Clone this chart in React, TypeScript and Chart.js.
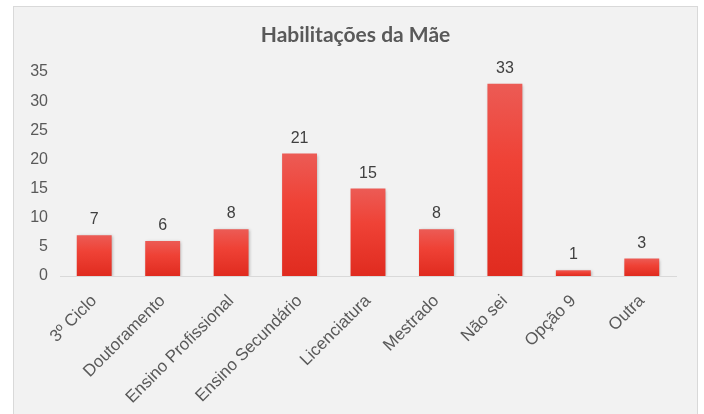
import React, { useEffect, useRef } from "react";
import { Chart, registerables } from "chart.js";

Chart.register(...registerables);

const categories = [
  "3º Ciclo",
  "Doutoramento",
  "Ensino Profissional",
  "Ensino Secundário",
  "Licenciatura",
  "Mestrado",
  "Não sei",
  "Opção 9",
  "Outra",
];
const values = [7, 6, 8, 21, 15, 8, 33, 1, 3];
const yTicks = [0, 5, 10, 15, 20, 25, 30, 35];
const titleText = "Habilitações da Mãe";

const W = 683;
const H = 407;
const SANS = "'Liberation Sans', Arial, Helvetica, sans-serif";

export default function App() {
  const ref = useRef<HTMLCanvasElement | null>(null);

  useEffect(() => {
    if (!ref.current) return;
    Chart.defaults.font.family = SANS;
    const decoPlugin = {
      id: "deco",
      beforeDatasetsDraw(chart: any) {
        const c = chart.ctx;
        c.save();
        c.shadowColor = "rgba(0,0,0,0.28)";
        c.shadowBlur = 3;
        c.shadowOffsetX = 1;
        c.shadowOffsetY = 1;
      },
      afterDatasetsDraw(chart: any) {
        chart.ctx.restore();
        const c = chart.ctx;
        const meta = chart.getDatasetMeta(0);
        c.save();
        c.font = "16px " + SANS;
        c.fillStyle = "#404040";
        c.textAlign = "center";
        c.textBaseline = "alphabetic";
        meta.data.forEach((bar: any, i: number) => {
          c.fillText(String(values[i]), bar.x, bar.y - 11);
        });
        c.font = "bold 21px Lato, 'Open Sans', sans-serif";
        c.fillStyle = "#595959";
        c.fillText(titleText, chart.width / 2, 35);
        c.restore();
      },
    };

    const chart = new Chart(ref.current, {
      type: "bar",
      data: {
        labels: categories,
        datasets: [
          {
            data: values,
            backgroundColor: (ctx: any) => {
              const ch = ctx.chart;
              const ys = ch.scales && ch.scales.y;
              if (!ys || ctx.raw === undefined) return "#ee3b2f";
              const top = ys.getPixelForValue(ctx.raw);
              const bottom = ys.getPixelForValue(0);
              if (!isFinite(top) || !isFinite(bottom) || bottom - top < 1) return "#eb4a40";
              const g = ch.ctx.createLinearGradient(0, top, 0, bottom);
              g.addColorStop(0, "#ec5b55");
              g.addColorStop(0.4, "#ef4236");
              g.addColorStop(1, "#e02b1f");
              return g;
            },
            borderWidth: 0,
            barPercentage: 0.51,
            categoryPercentage: 1,
          },
        ],
      },
      options: {
        responsive: false,
        animation: false,
        font: { family: SANS },
        layout: { padding: { left: 0, right: 21, top: 65, bottom: 0 } },
        plugins: {
          legend: { display: false },
          tooltip: { enabled: false },
          title: { display: false },
        },
        scales: {
          x: {
            grid: { display: false, drawTicks: false },
            border: { display: true, color: "#d9d9d9", width: 1 },
            ticks: {
              color: "#595959",
              font: { family: SANS, size: 17 },
              minRotation: 45,
              maxRotation: 45,
              padding: 15,
              autoSkip: false,
            },
            afterFit: (s: any) => {
              s.height = 138;
            },
          },
          y: {
            min: 0,
            max: 35,
            grid: { display: false, drawTicks: false },
            border: { display: false },
            afterBuildTicks: (s: any) => {
              s.ticks = yTicks.map((v) => ({ value: v }));
            },
            ticks: {
              color: "#595959",
              font: { family: SANS, size: 16 },
              padding: 12,
            },
            afterFit: (s: any) => {
              s.width = 46;
            },
          },
        },
      },
      plugins: [decoPlugin],
    } as any);
    return () => chart.destroy();
  }, []);

  return (
    <div
      style={{
        position: "absolute",
        left: 13,
        top: 6,
        width: W + 2,
        height: 420,
        boxSizing: "border-box",
        border: "1px solid #d9d9d9",
        background: "#f2f2f2",
      }}
    >
      <canvas ref={ref} width={W} height={H} style={{ display: "block", width: W, height: H }} />
    </div>
  );
}
